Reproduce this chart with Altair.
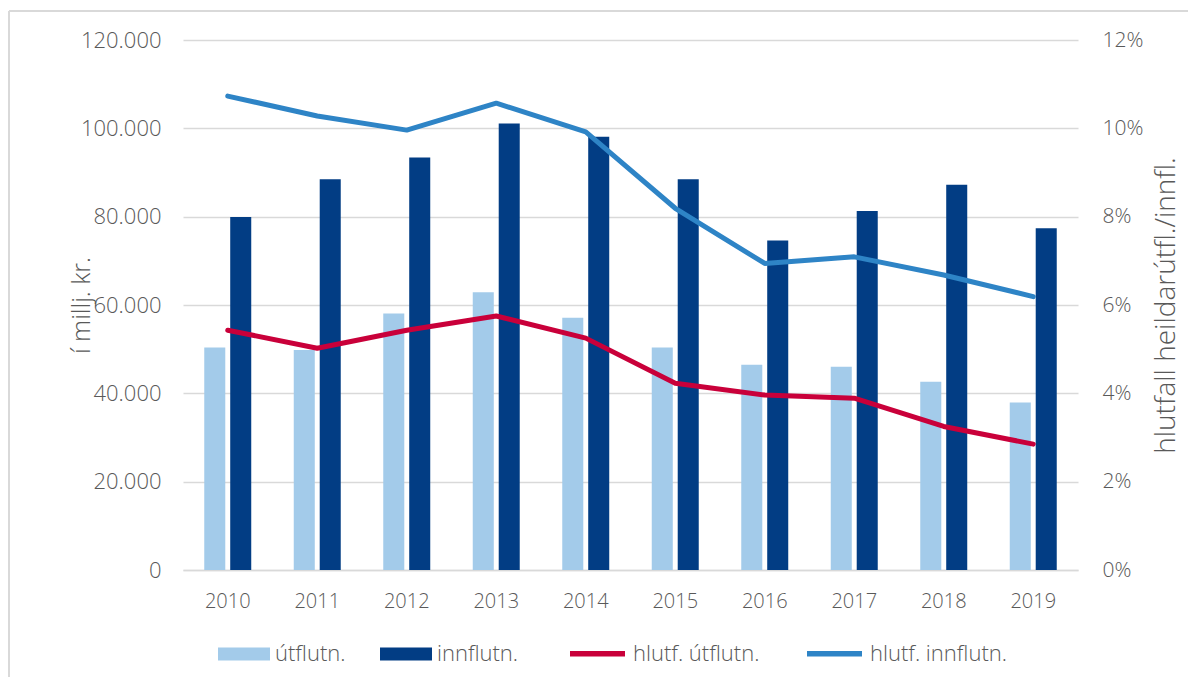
import altair as alt
import pandas as pd

years = ["2010", "2011", "2012", "2013", "2014", "2015", "2016", "2017", "2018", "2019"]
utflutn = [50400, 49800, 58100, 62900, 57100, 50400, 46500, 46000, 42600, 37900]
innflutn = [79900, 88500, 93400, 101100, 98100, 88500, 74600, 81300, 87200, 77400]
hlutf_utflutn = [0.0543, 0.0502, 0.0543, 0.0575, 0.0525, 0.0423, 0.0396, 0.0389, 0.0325, 0.0285]
hlutf_innflutn = [0.1073, 0.1028, 0.0996, 0.1057, 0.0992, 0.0819, 0.0694, 0.0709, 0.0668, 0.0619]

bar_series = ["útflutn.", "innflutn."]
line_series = ["hlutf. útflutn.", "hlutf. innflutn."]
bar_colors = ["#A3CBEA", "#023D84"]
line_colors = ["#C9003A", "#2E84C6"]

bars_df = pd.DataFrame(
    [{"ár": y, "röð": bar_series[0], "gildi": v} for y, v in zip(years, utflutn)]
    + [{"ár": y, "röð": bar_series[1], "gildi": v} for y, v in zip(years, innflutn)]
)
lines_df = pd.DataFrame(
    [{"ár": y, "röð": line_series[0], "hlutfall": v} for y, v in zip(years, hlutf_utflutn)]
    + [{"ár": y, "röð": line_series[1], "hlutfall": v} for y, v in zip(years, hlutf_innflutn)]
)

FONT = "Open Sans"
TXT = "#595959"
GRID = "#D9D9D9"

x_enc = alt.X(
    "ár:N",
    sort=years,
    scale=alt.Scale(paddingInner=0.475, paddingOuter=0.2375),
    axis=alt.Axis(
        title=None, labelAngle=0, ticks=False, domain=True, domainColor=GRID,
        domainWidth=1.5, labelFontSize=20, labelColor=TXT, labelFont=FONT,
        labelFontWeight=300, labelPadding=21, grid=False,
    ),
)

bars = alt.Chart(bars_df).mark_bar().encode(
    x=x_enc,
    xOffset=alt.XOffset("röð:N", sort=bar_series, scale=alt.Scale(paddingInner=0.19, paddingOuter=0)),
    y=alt.Y(
        "gildi:Q",
        scale=alt.Scale(domain=[0, 120000]),
        axis=alt.Axis(
            title="í millj. kr.", values=[0, 20000, 40000, 60000, 80000, 100000, 120000],
            labelExpr="replace(format(datum.value, ',d'), ',', '.')",
            ticks=False, domain=False, grid=True, gridColor=GRID, gridWidth=1.5,
            labelFontSize=22, labelColor=TXT, labelFont=FONT, labelFontWeight=300,
            labelPadding=22, titleFontSize=25, titleColor=TXT, titleFont=FONT,
            titleFontWeight=300, titleX=-102, titleY=265, titleAlign="center",
            titleBaseline="middle", titleAngle=270,
        ),
    ),
    color=alt.Color(
        "röð:N",
        sort=bar_series,
        scale=alt.Scale(domain=bar_series, range=bar_colors),
        legend=alt.Legend(
            title=None, orient="none", legendX=35, legendY=588, direction="horizontal",
            symbolType="M-1,-0.25H1V0.25H-1Z", symbolSize=2704, symbolStrokeWidth=0,
            labelFontSize=22, labelColor=TXT, labelFont=FONT, labelFontWeight=300,
            columnPadding=34, labelOffset=5, padding=0,
        ),
    ),
)

lines = alt.Chart(lines_df).mark_line(strokeWidth=5, strokeCap="round", strokeJoin="round").encode(
    x=alt.X("ár:N", sort=years),
    y=alt.Y(
        "hlutfall:Q",
        scale=alt.Scale(domain=[0, 0.12]),
        axis=alt.Axis(
            orient="right", title="hlutfall heildarútfl./innfl.",
            values=[0, 0.02, 0.04, 0.06, 0.08, 0.10, 0.12], format=".0%",
            ticks=False, domain=False, grid=False,
            labelFontSize=21, labelColor=TXT, labelFont=FONT, labelFontWeight=300,
            labelPadding=24, titleFontSize=28, titleColor=TXT, titleFont=FONT,
            titleFontWeight=300, titleX=88, titleY=265, titleAlign="center",
            titleBaseline="middle", titleAngle=270,
        ),
    ),
    stroke=alt.Stroke(
        "röð:N",
        sort=line_series,
        scale=alt.Scale(domain=line_series, range=line_colors),
        legend=alt.Legend(
            title=None, orient="none", legendX=384, legendY=583, direction="horizontal",
            symbolType="stroke", symbolSize=3025, symbolStrokeWidth=5.5,
            labelFontSize=22, labelColor=TXT, labelFont=FONT, labelFontWeight=300,
            columnPadding=36, labelOffset=5, padding=0,
        ),
    ),
)

border_top = alt.Chart(pd.DataFrame({"k": [0]})).mark_rule(color="#D9D9D9", strokeWidth=2, clip=False).encode(
    x=alt.value(-174), x2=alt.value(1030), y=alt.value(-29), y2=alt.value(-29)
)
border_left = alt.Chart(pd.DataFrame({"k": [0]})).mark_rule(color="#D9D9D9", strokeWidth=2, clip=False).encode(
    x=alt.value(-174), x2=alt.value(-174), y=alt.value(-29), y2=alt.value(637)
)

chart = (
    alt.layer(bars, lines, border_top, border_left)
    .resolve_scale(y="independent", color="independent")
    .properties(
        width=895, height=530,
        autosize=alt.AutoSizeParams(type="none"),
        padding={"left": 175, "top": 32, "right": 110, "bottom": 107},
    )
    .configure_view(stroke=None)
)

chart.save("out.html", embed_options={"renderer": "svg", "actions": False})
